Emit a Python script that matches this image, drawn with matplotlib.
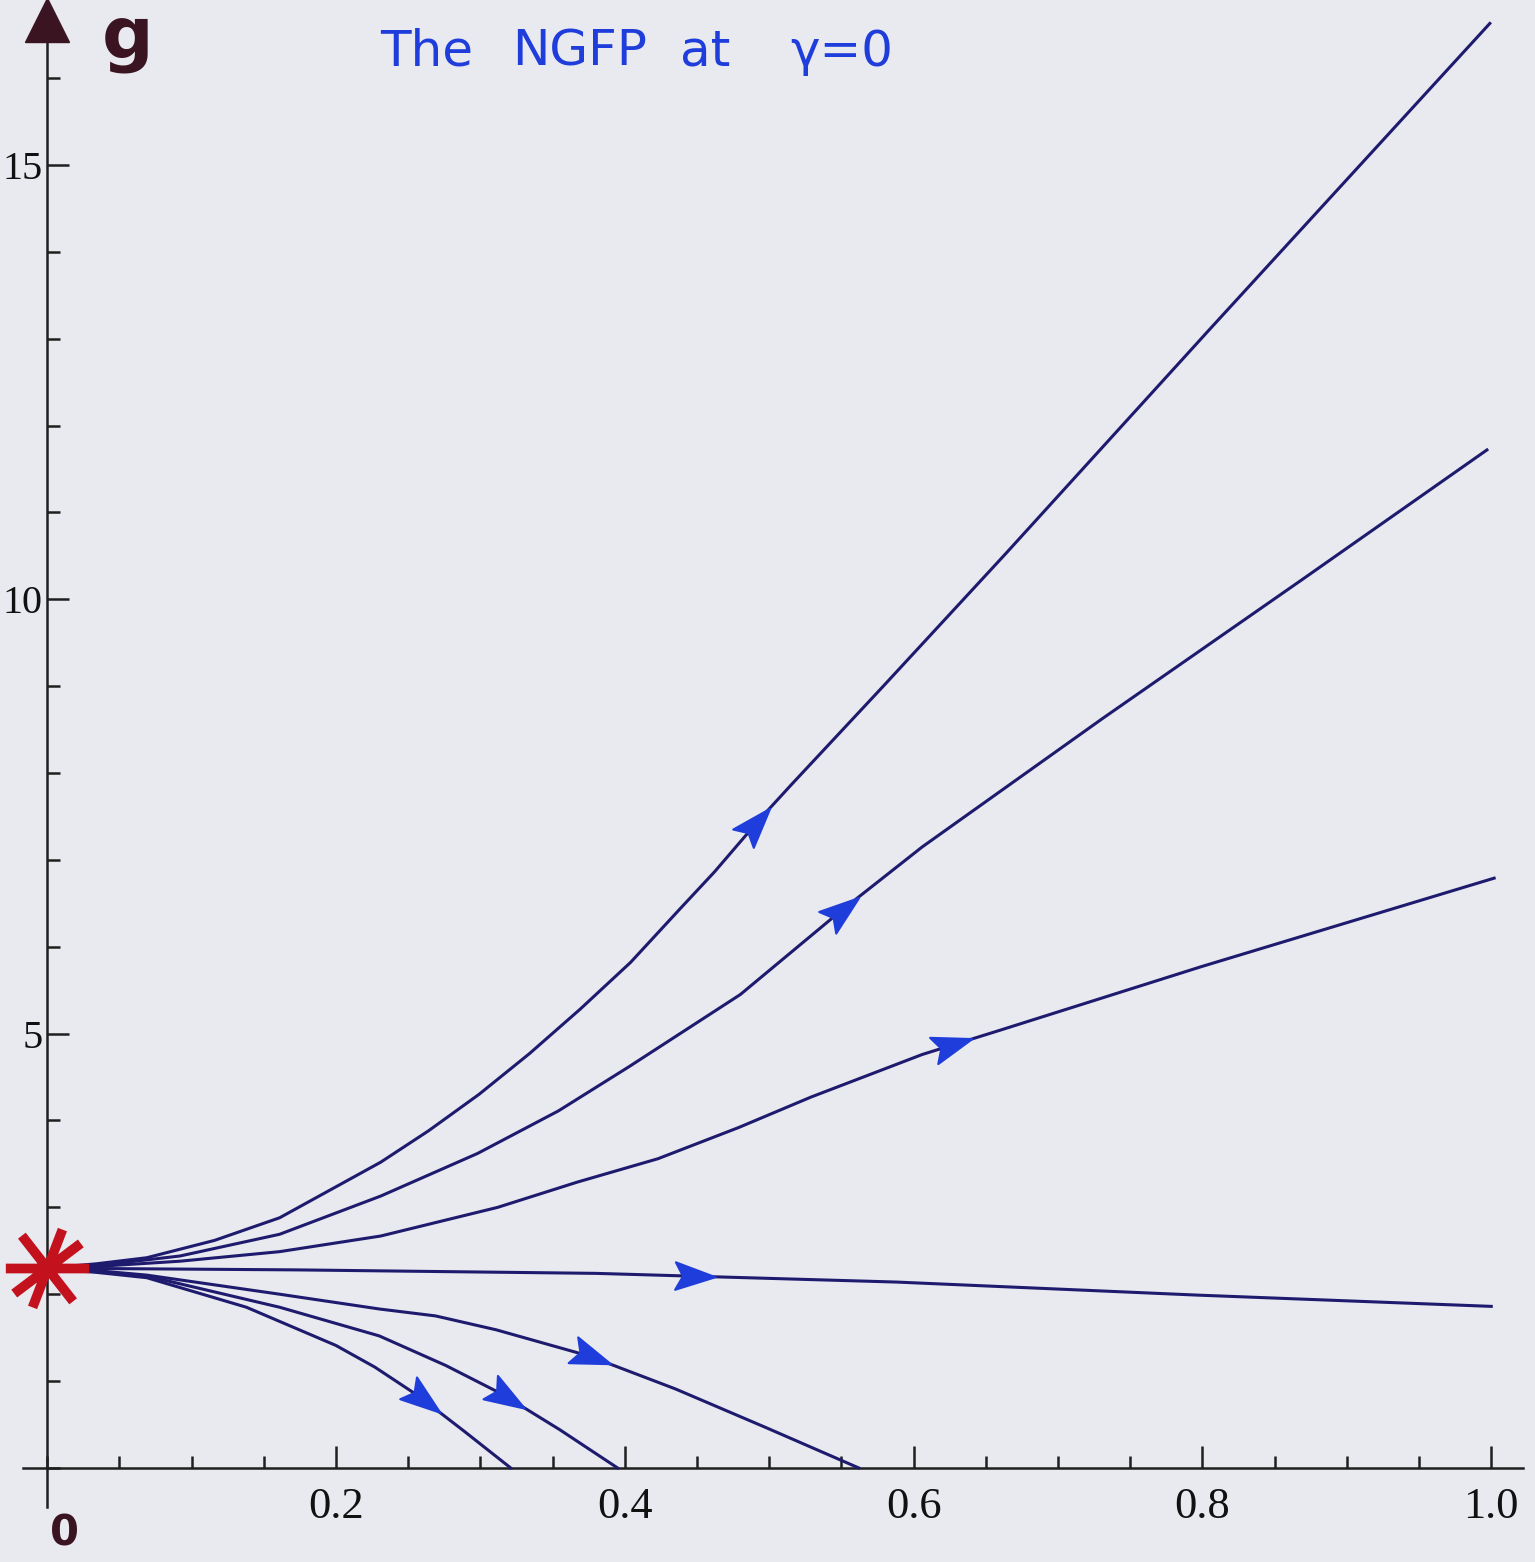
import numpy as np
import matplotlib.pyplot as plt
from matplotlib.path import Path
from matplotlib.markers import MarkerStyle
from matplotlib.transforms import Affine2D
from matplotlib.ticker import MultipleLocator

plt.rcParams['font.family'] = ['Liberation Serif', 'DejaVu Serif']

bg = '#e9e9f0'
curve_col = '#1e1b6e'
arrow_col = '#1f3ddb'
ink = '#3a1420'
axis_col = '#1f1f1f'

# non-gaussian fixed point (lambda, g)
fp_lam, fp_g = 0.0, 2.3

# flow lines, (lambda, g)
lam_a = [0.0, 0.034, 0.069, 0.116, 0.161, 0.231, 0.264, 0.299, 0.334, 0.369, 0.404, 0.439,
         0.462, 0.493, 0.515, 0.579, 0.664, 0.804, 0.999]
g_a = [2.30, 2.35, 2.42, 2.62, 2.88, 3.52, 3.88, 4.30, 4.77, 5.28, 5.82, 6.45,
       6.86, 7.46, 7.86, 9.00, 10.53, 13.09, 16.63]

lam_b = [0.0, 0.035, 0.092, 0.161, 0.231, 0.298, 0.354, 0.403, 0.480, 0.548, 0.606, 0.731, 0.871, 0.997]
g_b = [2.30, 2.33, 2.44, 2.69, 3.13, 3.62, 4.11, 4.62, 5.45, 6.39, 7.15, 8.63, 10.25, 11.72]

lam_c = [0.0, 0.035, 0.092, 0.161, 0.231, 0.312, 0.367, 0.423, 0.479, 0.529, 0.606, 0.660, 0.799, 1.002]
g_c = [2.30, 2.32, 2.38, 2.49, 2.67, 3.00, 3.29, 3.56, 3.92, 4.27, 4.76, 5.04, 5.77, 6.79]

lam_d = [0.0, 0.173, 0.380, 0.588, 0.796, 1.0]
g_d = [2.30, 2.28, 2.24, 2.14, 1.99, 1.86]

lam_e = [0.0, 0.035, 0.069, 0.161, 0.230, 0.269, 0.311, 0.375, 0.435, 0.497, 0.562]
g_e = [2.30, 2.27, 2.22, 2.00, 1.83, 1.75, 1.59, 1.29, 0.91, 0.47, 0.0]

lam_f = [0.0, 0.035, 0.069, 0.161, 0.230, 0.276, 0.315, 0.355, 0.395]
g_f = [2.30, 2.26, 2.21, 1.85, 1.52, 1.18, 0.85, 0.44, 0.0]

lam_g = [0.0, 0.035, 0.069, 0.138, 0.200, 0.227, 0.257, 0.289, 0.321]
g_g = [2.30, 2.25, 2.19, 1.85, 1.41, 1.16, 0.83, 0.42, 0.0]

curves = [(lam_a, g_a), (lam_b, g_b), (lam_c, g_c), (lam_d, g_d),
          (lam_e, g_e), (lam_f, g_f), (lam_g, g_g)]
# where the hand drawn arrow heads sit (lambda)
arrow_at = [0.489, 0.548, 0.624, 0.445, 0.374, 0.316, 0.258]

x_ticks = [0.2, 0.4, 0.6, 0.8, 1.0]
x_ticklabels = ['0.2', '0.4', '0.6', '0.8', '1.0']
y_ticks = [5, 10, 15]
y_ticklabels = ['5', '10', '15']

# handwritten title, word by word
title_words = ['The', 'NGFP', 'at', '\u03b3=0']
title_x = [380, 512, 680, 790]

fig = plt.figure(figsize=(15.35, 15.62), dpi=100, facecolor=bg)
ax = fig.add_axes([0.0147, 0.0352, 0.9775, 0.9648])
ax.set_facecolor(bg)
ax.set_xlim(-0.017, 1.022)
ax.set_ylim(-0.45, 16.9)

for s in ['top', 'right']:
    ax.spines[s].set_visible(False)
ax.spines['left'].set_position(('data', 0))
ax.spines['bottom'].set_position(('data', 0))
for s in ['left', 'bottom']:
    ax.spines[s].set_color(axis_col)
    ax.spines[s].set_linewidth(1.8)

ax.set_xticks(x_ticks)
ax.set_xticklabels(x_ticklabels)
ax.set_yticks(y_ticks)
ax.set_yticklabels(y_ticklabels)
ax.xaxis.set_minor_locator(MultipleLocator(0.05))
ax.yaxis.set_minor_locator(MultipleLocator(1))
ax.tick_params(which='major', direction='in', length=16, width=1.8, color=axis_col,
               labelsize=32, labelcolor='#111111')
ax.tick_params(which='minor', direction='in', length=9, width=1.8, color=axis_col)
ax.tick_params(axis='x', which='major', pad=14)
ax.tick_params(axis='y', which='major', pad=3, labelsize=29)

for lam, g in curves:
    ax.plot(lam, g, color=curve_col, lw=2.2, clip_on=False, zorder=3)

# hand drawn arrow heads along the flow
head = Path([(1.0, 0.0), (-0.6, 0.55), (-0.3, 0.0), (-0.6, -0.55), (1.0, 0.0)],
            [Path.MOVETO, Path.LINETO, Path.LINETO, Path.LINETO, Path.CLOSEPOLY])
for (lam, g), la in zip(curves, arrow_at):
    g0 = np.interp(la, lam, g)
    g1 = np.interp(la + 0.01, lam, g)
    p0 = ax.transData.transform((la, g0))
    p1 = ax.transData.transform((la + 0.01, g1))
    ang = np.degrees(np.arctan2(p1[1] - p0[1], p1[0] - p0[0]))
    m = MarkerStyle(head, transform=Affine2D().rotate_deg(ang))
    ax.plot(la, g0, marker=m, ms=36, color=arrow_col, mec=arrow_col, mew=1.5,
            zorder=4, clip_on=False)

# red asterisk at the fixed point
star_ang = np.deg2rad([0, 37, 69, 128])
verts, codes = [], []
for a in star_ang:
    verts += [(-np.cos(a), -np.sin(a)), (np.cos(a), np.sin(a))]
    codes += [Path.MOVETO, Path.LINETO]
ax.plot(fp_lam, fp_g, marker=Path(verts, codes), ms=60, mew=7, mec='#c3121e',
        clip_on=False, zorder=6, ls='none')

# arrow head on top of the g axis
ax.plot([0], [0.987], marker='^', ms=32, color=ink, transform=ax.get_xaxis_transform(),
        clip_on=False, zorder=6)

# handwritten notes
for word, x in zip(title_words, title_x):
    fig.text(x / 1535, 1 - 66 / 1562, word, color=arrow_col, fontsize=36,
             family='DejaVu Sans', va='baseline', ha='left')
fig.text(102 / 1535, 1 - 58 / 1562, 'g', color=ink, fontsize=52, fontweight='bold',
         family='DejaVu Sans', va='baseline', ha='left')
fig.text(64 / 1535, 1 - 1533 / 1562, '0', color=ink, fontsize=30, fontweight='bold',
         family='DejaVu Sans', va='center', ha='center')

fig.savefig('out.png', dpi=100, facecolor=bg)
